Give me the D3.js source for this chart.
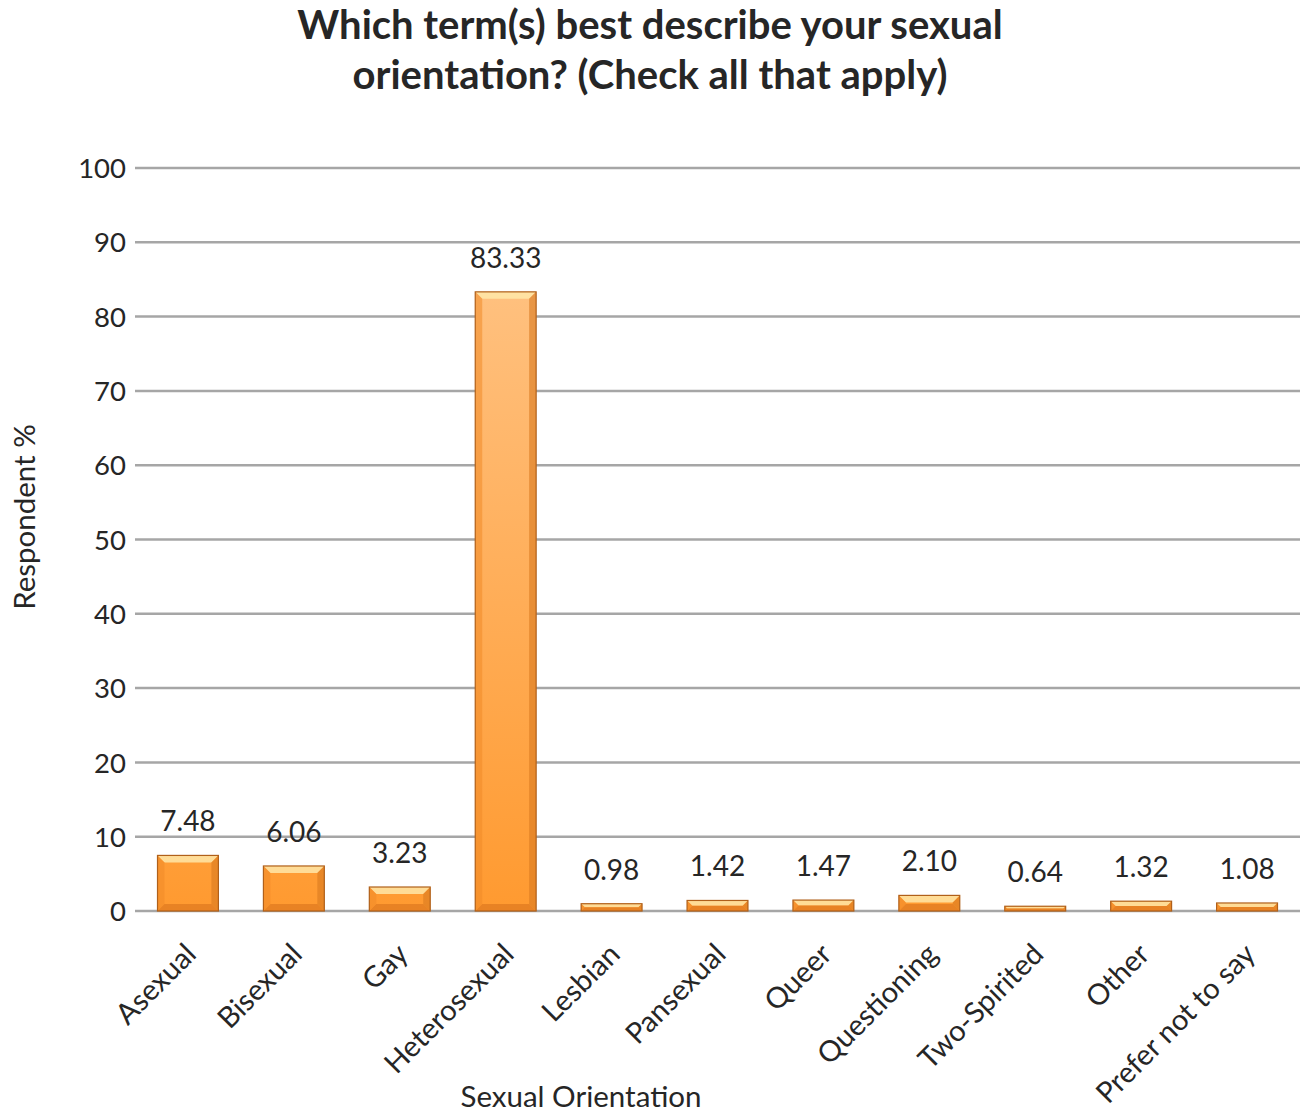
<!DOCTYPE html>
<html><head><meta charset="utf-8">
<script src="https://cdn.jsdelivr.net/npm/d3@7"></script>
<style>body{margin:0;background:#fff}svg{display:block}text{font-family:Lato,"Open Sans",sans-serif;fill:#262626}</style>
</head><body>
<script>
const categories = ["Asexual","Bisexual","Gay","Heterosexual","Lesbian","Pansexual","Queer","Questioning","Two-Spirited","Other","Prefer not to say"];
const values = [7.48,6.06,3.23,83.33,0.98,1.42,1.47,2.10,0.64,1.32,1.08];
const valueLabels = ["7.48","6.06","3.23","83.33","0.98","1.42","1.47","2.10","0.64","1.32","1.08"];
const yTicks = [0,10,20,30,40,50,60,70,80,90,100];
const titleLines = ["Which term(s) best describe your sexual","orientation? (Check all that apply)"];

const W=1306,H=1112;
const m={left:135,right:6,top:168,bottom:201};
const svg=d3.select("body").append("svg").attr("width",W).attr("height",H);
const defs=svg.append("defs");
const x=d3.scaleBand().domain(categories).range([m.left,W-m.right]).paddingInner(0.425).paddingOuter(0.2125);
const y=d3.scaleLinear().domain([0,100]).range([H-m.bottom,m.top]);

const g=defs.append("linearGradient").attr("id","gr").attr("gradientUnits","userSpaceOnUse")
 .attr("x1",0).attr("y1",y(100)).attr("x2",0).attr("y2",y(0));
g.append("stop").attr("offset","0%").attr("stop-color","#ffc88e");
g.append("stop").attr("offset","100%").attr("stop-color","#ff9a30");

// grid
const yAxis=d3.axisLeft(y).tickValues(yTicks).tickSize(0).tickPadding(9);
const ga=svg.append("g").attr("transform",`translate(${m.left},0)`).call(yAxis);
ga.select(".domain").remove();
ga.selectAll("text").style("font-size","27.5px").style("font-family","Lato").attr("fill","#404040").attr("dy","0.35em");
svg.append("g").selectAll("line").data(yTicks).join("line")
 .attr("x1",m.left).attr("x2",W-m.right).attr("y1",d=>y(d)).attr("y2",d=>y(d))
 .attr("stroke","#a6a6a6").attr("stroke-width",2.5);

// bars
const bars=svg.append("g").selectAll("g").data(categories).join("g");
bars.each(function(c,i){
  const sel=d3.select(this);
  const x0=x(c), w=x.bandwidth(), y0=y(values[i]), y1=y(0), h=y1-y0;
  const b=Math.min(7,h/2);
  sel.append("rect").attr("x",x0).attr("y",y0).attr("width",w).attr("height",h).attr("fill","url(#gr)");
  sel.append("polygon").attr("points",`${x0},${y0} ${x0+w},${y0} ${x0+w-b},${y0+b} ${x0+b},${y0+b}`).attr("fill","#ffe7a8").attr("opacity",0.85);
  sel.append("polygon").attr("points",`${x0},${y1} ${x0+w},${y1} ${x0+w-b},${y1-b} ${x0+b},${y1-b}`).attr("fill","#d9731c").attr("opacity",0.6);
  sel.append("polygon").attr("points",`${x0},${y0} ${x0+b},${y0+b} ${x0+b},${y1-b} ${x0},${y1}`).attr("fill","#f08a28").attr("opacity",0.55);
  sel.append("polygon").attr("points",`${x0+w},${y0} ${x0+w-b},${y0+b} ${x0+w-b},${y1-b} ${x0+w},${y1}`).attr("fill","#d97a20").attr("opacity",0.6);
  sel.append("rect").attr("x",x0).attr("y",y0).attr("width",w).attr("height",h).attr("fill","none").attr("stroke","#b0601a").attr("stroke-width",1.2);
});

// value labels
svg.append("g").selectAll("text").data(categories).join("text")
 .attr("x",c=>x(c)+x.bandwidth()/2).attr("y",(c,i)=>y(values[i])-24)
 .attr("text-anchor","middle").style("font-size","28px").attr("fill","#404040")
 .text((c,i)=>valueLabels[i]);

// x labels
const xAxis=d3.axisBottom(x).tickSize(0).tickPadding(0);
const gx=svg.append("g").attr("transform",`translate(0,${y(0)})`).call(xAxis);
gx.select(".domain").remove();
gx.selectAll("text").style("font-size","29px").style("font-family","Lato").attr("fill","#404040")
 .attr("text-anchor","end").attr("dy",0).attr("y",0)
 .attr("transform","translate(10,45) rotate(-45)");

// titles
svg.append("text").attr("text-anchor","middle").attr("x",650).attr("y",39)
 .style("font-size","40px").style("font-weight","bold").attr("fill","#1a1a1a").text(titleLines[0]);
svg.append("text").attr("text-anchor","middle").attr("x",650).attr("y",89)
 .style("font-size","40px").style("font-weight","bold").attr("fill","#1a1a1a").text(titleLines[1]);
svg.append("text").attr("text-anchor","middle").attr("transform","translate(35,517) rotate(-90)")
 .style("font-size","29.5px").attr("fill","#1a1a1a").text("Respondent %");
svg.append("text").attr("text-anchor","middle").attr("x",581).attr("y",1107)
 .style("font-size","29.5px").attr("fill","#1a1a1a").text("Sexual Orientation");
</script>
</body></html>
